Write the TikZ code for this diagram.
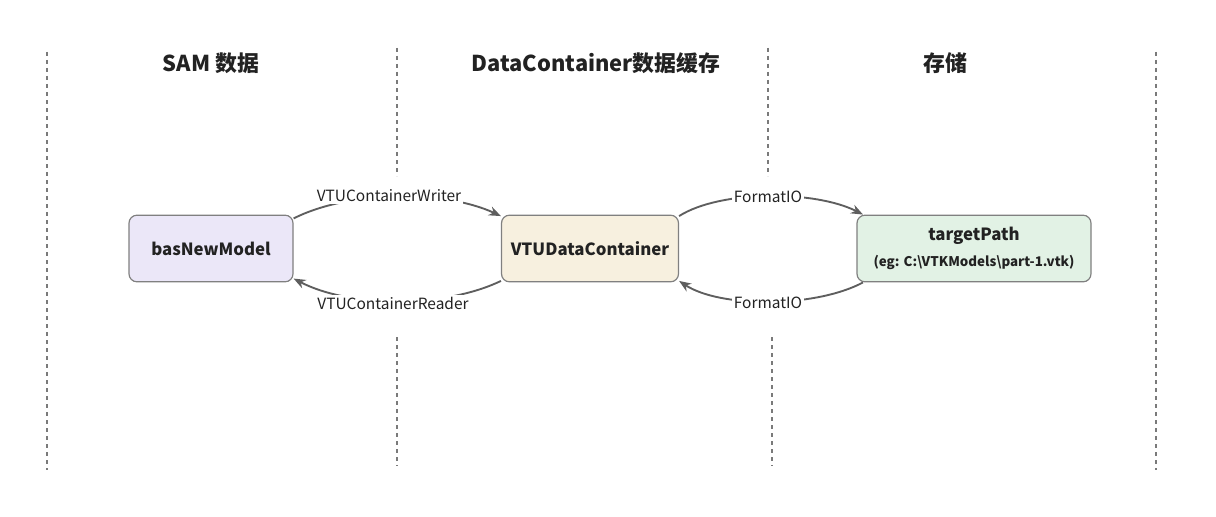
\documentclass[tikz,border=0pt]{standalone}
\usepackage{fontspec}
\setmainfont{Noto Sans CJK SC}
\usetikzlibrary{arrows.meta}
\definecolor{lineg}{HTML}{5E5E5E}
\definecolor{dashg}{HTML}{7A7A7A}
\definecolor{boxborder}{HTML}{808080}
\definecolor{purplefill}{HTML}{EBE7F8}
\definecolor{creamfill}{HTML}{F7F0DF}
\definecolor{greenfill}{HTML}{E2F2E5}
\definecolor{txt}{HTML}{222222}
\tikzset{
  lane/.style={draw=dashg, line width=1.2pt, dash pattern=on 3pt off 3pt},
  modelbox/.style={draw=boxborder, line width=0.9pt, rounded corners=6pt, minimum height=50pt, inner sep=0pt, text=txt, font=\fontsize{12.6}{15}\selectfont\bfseries, align=center},
  conn/.style={draw=lineg, line width=1.4pt, -{Stealth[length=9pt,width=7pt]}},
  conlabel/.style={fill=white, inner sep=1.5pt, text=txt, font=\fontsize{11.6}{13}\selectfont},
  title/.style={text=txt, font=\fontsize{16.4}{18}\selectfont\bfseries}
}
\begin{document}
\begin{tikzpicture}[x=0.75pt,y=-0.75pt]
\useasboundingbox[fill=white] (0,0) rectangle (1216,517);
% lanes
\coordinate (l1a) at (47,52); \coordinate (l1b) at (47,470);
\coordinate (l2a) at (397,48); \coordinate (l2b) at (397,176);
\coordinate (l2c) at (397,337); \coordinate (l2d) at (397,466);
\coordinate (l3a) at (768,48); \coordinate (l3b) at (768,176);
\coordinate (l3c) at (772,337); \coordinate (l3d) at (772,466);
\coordinate (l4a) at (1156,52); \coordinate (l4b) at (1156,470);
\draw[lane] (l1a) -- (l1b);
\draw[lane] (l2a) -- (l2b);
\draw[lane] (l2c) -- (l2d);
\draw[lane] (l3a) -- (l3b);
\draw[lane] (l3c) -- (l3d);
\draw[lane] (l4a) -- (l4b);
% titles
\node[title] (t1) at (211,63) {SAM 数据};
\node[title] (t2) at (596,63) {DataContainer数据缓存};
\node[title] (t3) at (945,63) {存储};
% boxes
\node[modelbox, fill=purplefill, minimum width=123pt] (bas) at (211,248.5) {basNewModel};
\node[modelbox, fill=creamfill, minimum width=132.75pt] (vtu) at (590,248.5) {VTUDataContainer};
\node[modelbox, fill=greenfill, minimum width=175.5pt] (tp) at (974,248.5) {targetPath\\[4pt]{\fontsize{10}{12}\selectfont (eg: C:\textbackslash VTKModels\textbackslash part-1.vtk)}};
% connectors
\draw[conn] (bas.20) .. controls (350,190) and (445,190) .. (vtu.160);
\draw[conn] (vtu.200) .. controls (445,308) and (350,308) .. (bas.-20);
\draw[conn] (vtu.20) .. controls (720,190) and (815,190) .. (tp.163);
\draw[conn] (tp.197) .. controls (815,308) and (720,308) .. (vtu.-20);
% labels
\node[conlabel] (w) at (389,196) {VTUContainerWriter};
\node[conlabel] (r) at (393,303) {VTUContainerReader};
\node[conlabel] (f1) at (768,197) {FormatIO};
\node[conlabel] (f2) at (768,303) {FormatIO};
\end{tikzpicture}
\end{document}
